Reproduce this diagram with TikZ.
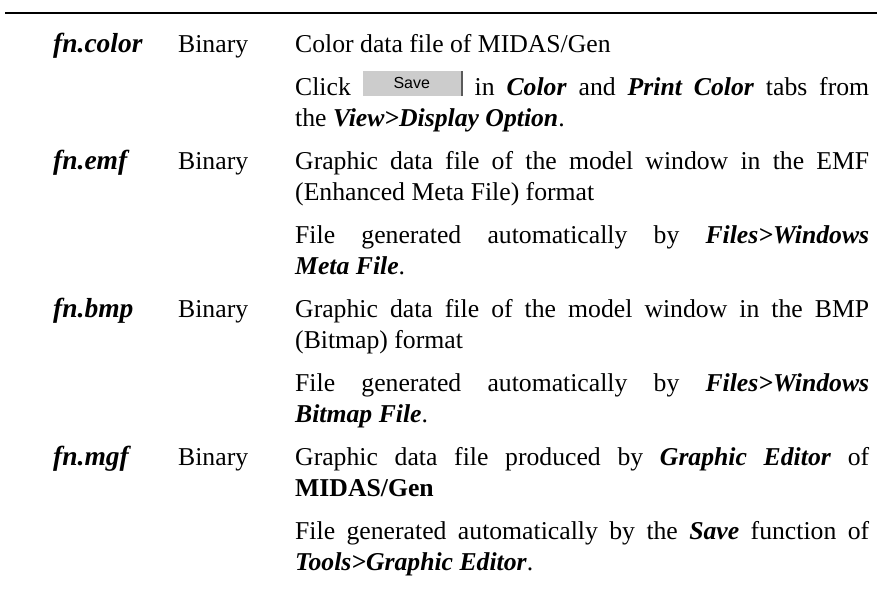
\documentclass[tikz,border=0pt]{standalone}
\usepackage{fontspec}
\setmainfont{Liberation Serif}
\setsansfont{Liberation Sans}
\usetikzlibrary{positioning}
\definecolor{BtnGray}{RGB}{204,204,204}
\definecolor{BtnEdge}{RGB}{90,90,90}
\newcommand{\bi}[1]{\textbf{\textit{#1}}}
\newcommand{\savebtn}{\raisebox{-1pt}{\setlength{\fboxsep}{0pt}%
  \colorbox{BtnGray}{\makebox[98pt]{\rule{0pt}{25pt}\raisebox{8pt}{\fontsize{16}{16}\selectfont\sffamily Save}}}%
  {\color{BtnEdge}\rule{2pt}{25pt}}}}
\tikzset{
  fname/.style={anchor=base west,inner sep=0pt,font=\fontsize{27.5}{31}\selectfont\bfseries\itshape},
  ftype/.style={anchor=base west,inner sep=0pt,font=\fontsize{25.7}{31}\selectfont},
  fdesc/.style={anchor=base west,inner sep=0pt,text width=574pt,align=justify,
    font=\fontsize{25.7}{31}\selectfont},
  toprule/.style={line width=1.5pt}
}
\begin{document}
\begin{tikzpicture}[x=1pt,y=1pt]
  \useasboundingbox (0,0) rectangle (877,-589);
  \coordinate (ruleL) at (5,-13);
  \coordinate (ruleR) at (877,-13);
  \draw[toprule] (ruleL) -- (ruleR);
  % fn.color
  \node[fname] (color) at (53,-52) {fn.color};
  \node[ftype] (colort) at (178,-52) {Binary};
  \node[fdesc] (colord1) at (295,-52) {Color data file of MIDAS/Gen};
  \node[fdesc] (colord2) at (295,-95) {Click \savebtn\ in \bi{Color} and \bi{Print Color} tabs from\linebreak
    the \bi{View>Display Option}.};
  % fn.emf
  \node[fname] (emf) at (53,-169) {fn.emf};
  \node[ftype] (emft) at (178,-169) {Binary};
  \node[fdesc] (emfd1) at (295,-169) {Graphic data file of the model window in the EMF\linebreak
    (Enhanced Meta File) format};
  \node[fdesc] (emfd2) at (295,-243) {File generated automatically by \bi{Files>Windows}\linebreak
    \bi{Meta File}.};
  % fn.bmp
  \node[fname] (bmp) at (53,-317) {fn.bmp};
  \node[ftype] (bmpt) at (178,-317) {Binary};
  \node[fdesc] (bmpd1) at (295,-317) {Graphic data file of the model window in the BMP\linebreak
    (Bitmap) format};
  \node[fdesc] (bmpd2) at (295,-391) {File generated automatically by \bi{Files>Windows}\linebreak
    \bi{Bitmap File}.};
  % fn.mgf
  \node[fname] (mgf) at (53,-465) {fn.mgf};
  \node[ftype] (mgft) at (178,-465) {Binary};
  \node[fdesc] (mgfd1) at (295,-465) {Graphic data file produced by \bi{Graphic Editor} of\linebreak
    \textbf{MIDAS/Gen}};
  \node[fdesc] (mgfd2) at (295,-539) {File generated automatically by the \bi{Save} function of\linebreak
    \bi{Tools>Graphic Editor}.};
\end{tikzpicture}
\end{document}
